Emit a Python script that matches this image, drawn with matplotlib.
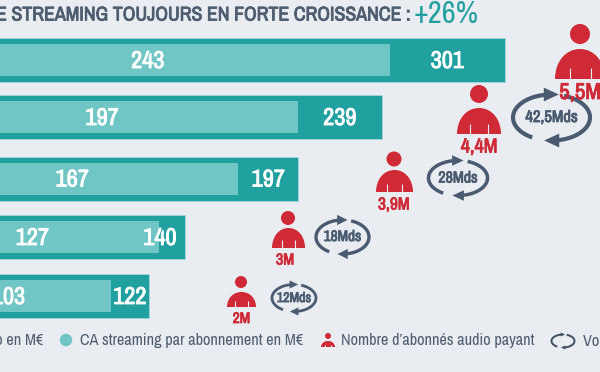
import numpy as np
import matplotlib
matplotlib.use("Agg")
import matplotlib.pyplot as plt
import matplotlib.patheffects as pe
from matplotlib.patches import Circle, PathPatch, Polygon
from matplotlib.path import Path

# chart values
ca_total = [301, 239, 197, 140, 122]
ca_abonnement = [243, 197, 167, 127, 103]
abonnes_labels = ["5,5M", "4,4M", "3,9M", "3M", "2M"]
volume_labels = ["42,5Mds", "28Mds", "18Mds", "12Mds"]

BG = "#e9ecf0"
DARK = "#21a0a0"
LIGHT = "#6fc6c5"
RED = "#cf2a36"
SLATE = "#4f5d70"
LOOP = "#4a5a70"
FONT = ["Archivo Narrow", "Roboto"]

# layout in pixels
bar_y = [60, 117, 178.5, 237, 296]
people = [(580, 34, 10, 555, 605, 49, 79, 580, 93, 16.5),
          (479, 94, 9, 457, 501, 108, 134, 479, 147, 14.5),
          (394, 159, 7.5, 376, 413, 170, 192, 394, 205, 12.5),
          (288, 218, 7, 272, 305, 228, 248, 285, 260, 11.5),
          (241, 282, 6, 227, 256, 292, 307, 241.5, 319, 11)]
loops = [(551.5, 117.5, 38.5, 23, 3.0, 12),
         (458, 178, 29.5, 17.5, 2.5, 11.5),
         (342.5, 237, 26.5, 17, 2.4, 11),
         (294, 298, 22, 13.5, 2.0, 10)]


def bold_text(ax, x, y, s, color, size, **kw):
    # the narrow font only comes in one weight here, a thin stroke thickens it
    t = ax.text(x, y, s, color=color, fontsize=size, family=FONT, va="center", **kw)
    t.set_path_effects([pe.withStroke(linewidth=0.6, foreground=color)])
    return t


def draw_person(ax, hx, hy, r, x0, x1, y0, y1, color=RED):
    ax.add_patch(Circle((hx, hy), r, color=color, lw=0))
    w = x1 - x0
    h = y1 - y0
    verts = [(x0, y1), (x0, y0 + 0.45 * h), (x0 + 0.2 * w, y0), (x0 + 0.5 * w, y0),
             (x0 + 0.8 * w, y0), (x1, y0 + 0.45 * h), (x1, y1), (x0, y1)]
    codes = [Path.MOVETO, Path.CURVE4, Path.CURVE4, Path.CURVE4,
             Path.CURVE4, Path.CURVE4, Path.CURVE4, Path.CLOSEPOLY]
    ax.add_patch(PathPatch(Path(verts, codes), color=color, lw=0))
    # slits for the arms
    for sx in (x0 + 0.29 * w, x0 + 0.71 * w):
        ax.plot([sx, sx], [y0 + 0.62 * h, y1], color=BG, lw=0.8, solid_capstyle="butt")


def draw_loop(ax, cx, cy, rx, ry, lw=2.2, color=LOOP):
    # two arcs going round, each one ends in a small arrow head
    for t0, t1, sign in ((120, 262, 1), (289, 442, -1)):
        t = np.radians(np.linspace(t0, t1, 60))
        ax.plot(cx + rx * np.cos(t), cy + ry * np.sin(t), color=color, lw=lw, solid_capstyle="butt")
        ytip = cy - sign * ry
        ax.add_patch(Polygon([(cx - sign * 0.2 * rx, ytip - 0.3 * ry),
                              (cx + sign * 0.19 * rx, ytip),
                              (cx - sign * 0.2 * rx, ytip + 0.3 * ry)], color=color, lw=0))


fig = plt.figure(figsize=(6, 3.72), dpi=100, facecolor=BG)

# bars, x axis in M€
ax = fig.add_axes([0, 0, 1, 1], facecolor=BG)
ax.set_xlim(47.2, 348.7)
ax.set_ylim(372, 0)
ax.axis("off")
ax.barh(bar_y, ca_total, height=44, color=DARK, edgecolor="#a9d8d8", lw=0.6)
ax.barh(bar_y, ca_abonnement, height=32, color=LIGHT, lw=0)
for y, total, abo in zip(bar_y, ca_total, ca_abonnement):
    bold_text(ax, abo / 2, y + 1.5, str(abo), "white", 17.5, ha="center")
    # 140 does not fit in its small dark part, it sits on the edge of the light bar
    xpos = 127.6 if total == 140 else (abo + total) / 2
    bold_text(ax, xpos, y + 1.5, str(total), "white", 17.5, ha="center")

# everything else in figure pixels
deco = fig.add_axes([0, 0, 1, 1], facecolor="none")
deco.set_xlim(0, 600)
deco.set_ylim(372, 0)
deco.axis("off")

bold_text(deco, -13, 15, "LE STREAMING TOUJOURS EN FORTE CROISSANCE :", SLATE, 14.3, ha="left")
deco.text(414, 14, "+26%", color=DARK, fontsize=22, family=FONT, ha="left", va="center")

for p, label in zip(people, abonnes_labels):
    hx, hy, r, x0, x1, y0, y1, lx, ly, fs = p
    draw_person(deco, hx, hy, r, x0, x1, y0, y1)
    bold_text(deco, lx, ly, label, RED, fs, ha="center")

for lp, label in zip(loops, volume_labels):
    cx, cy, rx, ry, lw, fs = lp
    draw_loop(deco, cx, cy, rx, ry, lw=lw)
    bold_text(deco, cx, cy, label, LOOP, fs, ha="center")

# legend
deco.text(43, 341, "CA streaming audio en M€", color=SLATE, fontsize=11.7, family=FONT, ha="right", va="center")
deco.add_patch(Circle((66, 340), 6.2, color=LIGHT, lw=0))
deco.text(80, 341, "CA streaming par abonnement en M€", color=SLATE, fontsize=11.7, family=FONT,
          ha="left", va="center")
draw_person(deco, 328, 336, 3, 321, 335, 341, 347)
deco.text(341, 341, "Nombre d’abonnés audio payant", color=SLATE, fontsize=11.7, family=FONT,
          ha="left", va="center")
draw_loop(deco, 563, 341, 11.5, 6.5, lw=1.4, color="#3f4d60")
deco.text(583, 342, "Volume de streams", color=SLATE, fontsize=11.7, family=FONT, ha="left", va="center")

fig.savefig("out.png", dpi=100, facecolor=BG)
